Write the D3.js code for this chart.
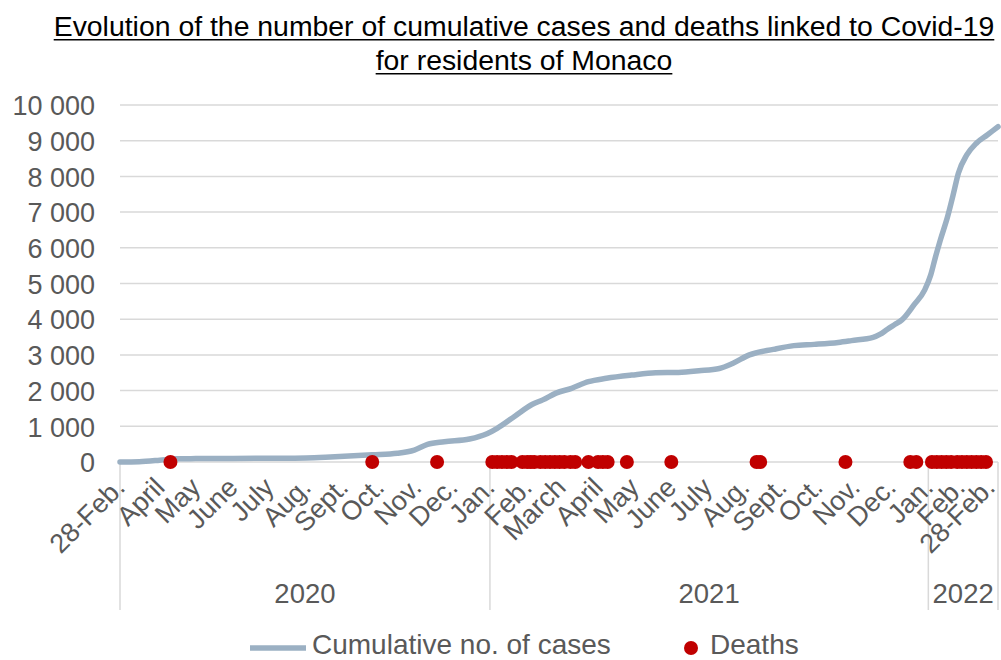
<!DOCTYPE html>
<html>
<head>
<meta charset="utf-8">
<script src="https://cdn.jsdelivr.net/npm/d3@7"></script>
<style>
  body { margin: 0; background: #fff; }
  svg { display: block; }
  text { font-family: "Liberation Sans", Arial, Helvetica, sans-serif; }
</style>
</head>
<body>
<svg id="chart" width="1001" height="660"></svg>
<script>
// Cumulative number of cases (resident population)
const caseDates = [
  "2020-02-28","2020-03-15","2020-04-01","2020-04-15","2020-05-01","2020-06-01","2020-07-01",
  "2020-08-01","2020-08-21","2020-09-25","2020-10-16","2020-10-30","2020-11-10","2020-11-24",
  "2020-12-15","2020-12-30","2021-01-07","2021-01-22","2021-02-05","2021-02-14","2021-02-25",
  "2021-03-10","2021-03-24","2021-04-08","2021-04-29","2021-05-19","2021-06-07","2021-06-24",
  "2021-07-11","2021-07-22","2021-08-05","2021-08-25","2021-09-11","2021-09-28","2021-10-18",
  "2021-10-29","2021-11-16","2021-11-22","2021-11-28","2021-12-04","2021-12-10","2021-12-20",
  "2021-12-29","2022-01-03","2022-01-07","2022-01-11","2022-01-17","2022-01-22","2022-01-26",
  "2022-02-02","2022-02-10","2022-02-19","2022-02-28"
];
const caseValues = [
  0, 10, 50, 90, 95, 99, 105,
  115, 140, 200, 245, 335, 495, 570,
  645, 800, 945, 1290, 1610, 1740, 1930,
  2065, 2250, 2345, 2435, 2500, 2510, 2555,
  2620, 2760, 3000, 3155, 3260, 3295, 3350,
  3400, 3490, 3580, 3720, 3850, 3980, 4400,
  4820, 5240, 5750, 6220, 6870, 7530, 8090,
  8600, 8930, 9160, 9390
];

// Dates of deaths (each marked on the zero line)
const deathDates = [
  "2020-04-10","2020-09-25","2020-11-18",
  "2021-01-03","2021-01-07","2021-01-11","2021-01-15","2021-01-19","2021-01-28","2021-02-01",
  "2021-02-04","2021-02-07","2021-02-12","2021-02-16","2021-02-20","2021-02-24","2021-02-28",
  "2021-03-04","2021-03-09","2021-03-13","2021-03-24","2021-04-01","2021-04-05","2021-04-09",
  "2021-04-25","2021-06-01","2021-08-11","2021-08-14","2021-10-24","2021-12-17","2021-12-22",
  "2022-01-04","2022-01-08","2022-01-12","2022-01-16","2022-01-20","2022-01-25","2022-01-29",
  "2022-02-02","2022-02-06","2022-02-10","2022-02-14","2022-02-18"
];

const yTicks = [0, 1000, 2000, 3000, 4000, 5000, 6000, 7000, 8000, 9000, 10000];

const monthTickDates = [
  "2020-02-28","2020-04-01","2020-05-01","2020-06-01","2020-07-01","2020-08-01","2020-09-01",
  "2020-10-01","2020-11-01","2020-12-01","2021-01-01","2021-02-01","2021-03-01","2021-04-01",
  "2021-05-01","2021-06-01","2021-07-01","2021-08-01","2021-09-01","2021-10-01","2021-11-01",
  "2021-12-01","2022-01-01","2022-02-01","2022-02-28"
];
const monthTickLabels = [
  "28-Feb.","April","May","June","July","Aug.","Sept.",
  "Oct.","Nov.","Dec.","Jan.","Feb.","March","April",
  "May","June","July","Aug.","Sept.","Oct.","Nov.",
  "Dec.","Jan.","Feb.","28-Feb."
];

const yearLabels = ["2020", "2021", "2022"];
const yearBounds = ["2020-02-28", "2021-01-01", "2022-01-01", "2022-02-28"];

const titleLines = [
  "Evolution of the number of cumulative cases and deaths linked to Covid-19",
  "for residents of Monaco"
];
const legendLabels = ["Cumulative no. of cases", "Deaths"];

// ---- layout ----
const W = 1001, H = 660;
const plot = { left: 120, right: 998, top: 105, bottom: 462 };
const lineColor = "#9bb0c3";
const dotColor = "#c00000";
const gridColor = "#d9d9d9";
const textColor = "#595959";

const parse = d3.utcParse("%Y-%m-%d");
const svg = d3.select("#chart");

const x = d3.scaleUtc()
  .domain([parse(yearBounds[0]), parse(yearBounds[3])])
  .range([plot.left, plot.right]);
const y = d3.scaleLinear().domain([0, 10000]).range([plot.bottom, plot.top]);

// Title (underlined)
const titleG = svg.append("g");
titleLines.forEach((t, i) => {
  const base = 36 + i * 34;
  const tx = titleG.append("text")
    .attr("x", 524).attr("y", base)
    .attr("text-anchor", "middle")
    .attr("font-size", 28.4)
    .attr("fill", "#000")
    .text(t);
  const bb = tx.node().getBBox();
  titleG.append("line")
    .attr("x1", bb.x).attr("x2", bb.x + bb.width)
    .attr("y1", base + 3.8).attr("y2", base + 3.8)
    .attr("stroke", "#000").attr("stroke-width", 1.6);
});

// Horizontal gridlines
svg.append("g")
  .selectAll("line")
  .data(yTicks)
  .join("line")
  .attr("x1", plot.left).attr("x2", plot.right)
  .attr("y1", d => y(d)).attr("y2", d => y(d))
  .attr("stroke", gridColor).attr("stroke-width", 1.5);

// Y axis labels
const fmt = v => d3.format(",")(v).replace(/,/g, " ");
const yAxis = d3.axisLeft(y).tickValues(yTicks).tickFormat(fmt).tickSize(0).tickPadding(0);
const yG = svg.append("g").attr("transform", `translate(95,0)`).call(yAxis);
yG.select(".domain").remove();
yG.selectAll("text")
  .attr("font-size", 27)
  .attr("fill", textColor)
  .attr("font-family", "\"Liberation Sans\", Arial, sans-serif")
  .attr("dy", "0.36em");

// Category separators (year boundaries)
svg.append("g")
  .selectAll("line")
  .data(yearBounds)
  .join("line")
  .attr("x1", d => x(parse(d))).attr("x2", d => x(parse(d)))
  .attr("y1", plot.bottom).attr("y2", 610)
  .attr("stroke", gridColor).attr("stroke-width", 1.5);

// Month labels, rotated. Anchors are kept inside the frame and pushed
// left where two labels would otherwise collide.
const tickDates = monthTickDates.map(parse);
const anchors = tickDates.map(d => x(d) + 6);
anchors[anchors.length - 1] = Math.min(anchors[anchors.length - 1], W - 5);
for (let i = anchors.length - 2; i >= 0; i--) {
  anchors[i] = Math.min(anchors[i], anchors[i + 1] - 30);
}
const xAxis = d3.axisBottom(x)
  .tickValues(tickDates)
  .tickFormat((d, i) => monthTickLabels[i])
  .tickSize(0);
const xG = svg.append("g").attr("transform", `translate(0,${plot.bottom})`).call(xAxis);
xG.select(".domain").remove();
xG.selectAll(".tick").each(function(d, i) {
  d3.select(this).select("text")
    .attr("font-size", 27)
    .attr("fill", textColor)
    .attr("font-family", "\"Liberation Sans\", Arial, sans-serif")
    .attr("text-anchor", "end")
    .attr("dy", null)
    .attr("y", null)
    .attr("transform", `translate(${anchors[i] - x(d)},27) rotate(-45)`);
});

// Year labels
svg.append("g")
  .selectAll("text")
  .data(yearLabels)
  .join("text")
  .attr("x", (d, i) => (x(parse(yearBounds[i])) + x(parse(yearBounds[i + 1]))) / 2)
  .attr("y", 603)
  .attr("text-anchor", "middle")
  .attr("font-size", 27.5)
  .attr("fill", textColor)
  .text(d => d);

// Cumulative cases line
const caseData = caseDates.map((d, i) => ({ date: parse(d), value: caseValues[i] }));
const line = d3.line()
  .x(d => x(d.date))
  .y(d => y(d.value))
  .curve(d3.curveMonotoneX);
svg.append("path")
  .datum(caseData)
  .attr("d", line)
  .attr("fill", "none")
  .attr("stroke", lineColor)
  .attr("stroke-width", 5.5)
  .attr("stroke-linecap", "round")
  .attr("stroke-linejoin", "round");

// Deaths
svg.append("g")
  .selectAll("circle")
  .data(deathDates.map(parse))
  .join("circle")
  .attr("cx", d => x(d))
  .attr("cy", y(0))
  .attr("r", 7)
  .attr("fill", dotColor);

// Legend
const lg = svg.append("g");
lg.append("line")
  .attr("x1", 250).attr("x2", 306)
  .attr("y1", 648).attr("y2", 648)
  .attr("stroke", lineColor).attr("stroke-width", 5.5);
lg.append("text")
  .attr("x", 312).attr("y", 654)
  .attr("font-size", 28)
  .attr("fill", textColor)
  .text(legendLabels[0]);
lg.append("circle")
  .attr("cx", 691).attr("cy", 648).attr("r", 7)
  .attr("fill", dotColor);
lg.append("text")
  .attr("x", 710).attr("y", 654)
  .attr("font-size", 28)
  .attr("fill", textColor)
  .text(legendLabels[1]);
</script>
</body>
</html>
